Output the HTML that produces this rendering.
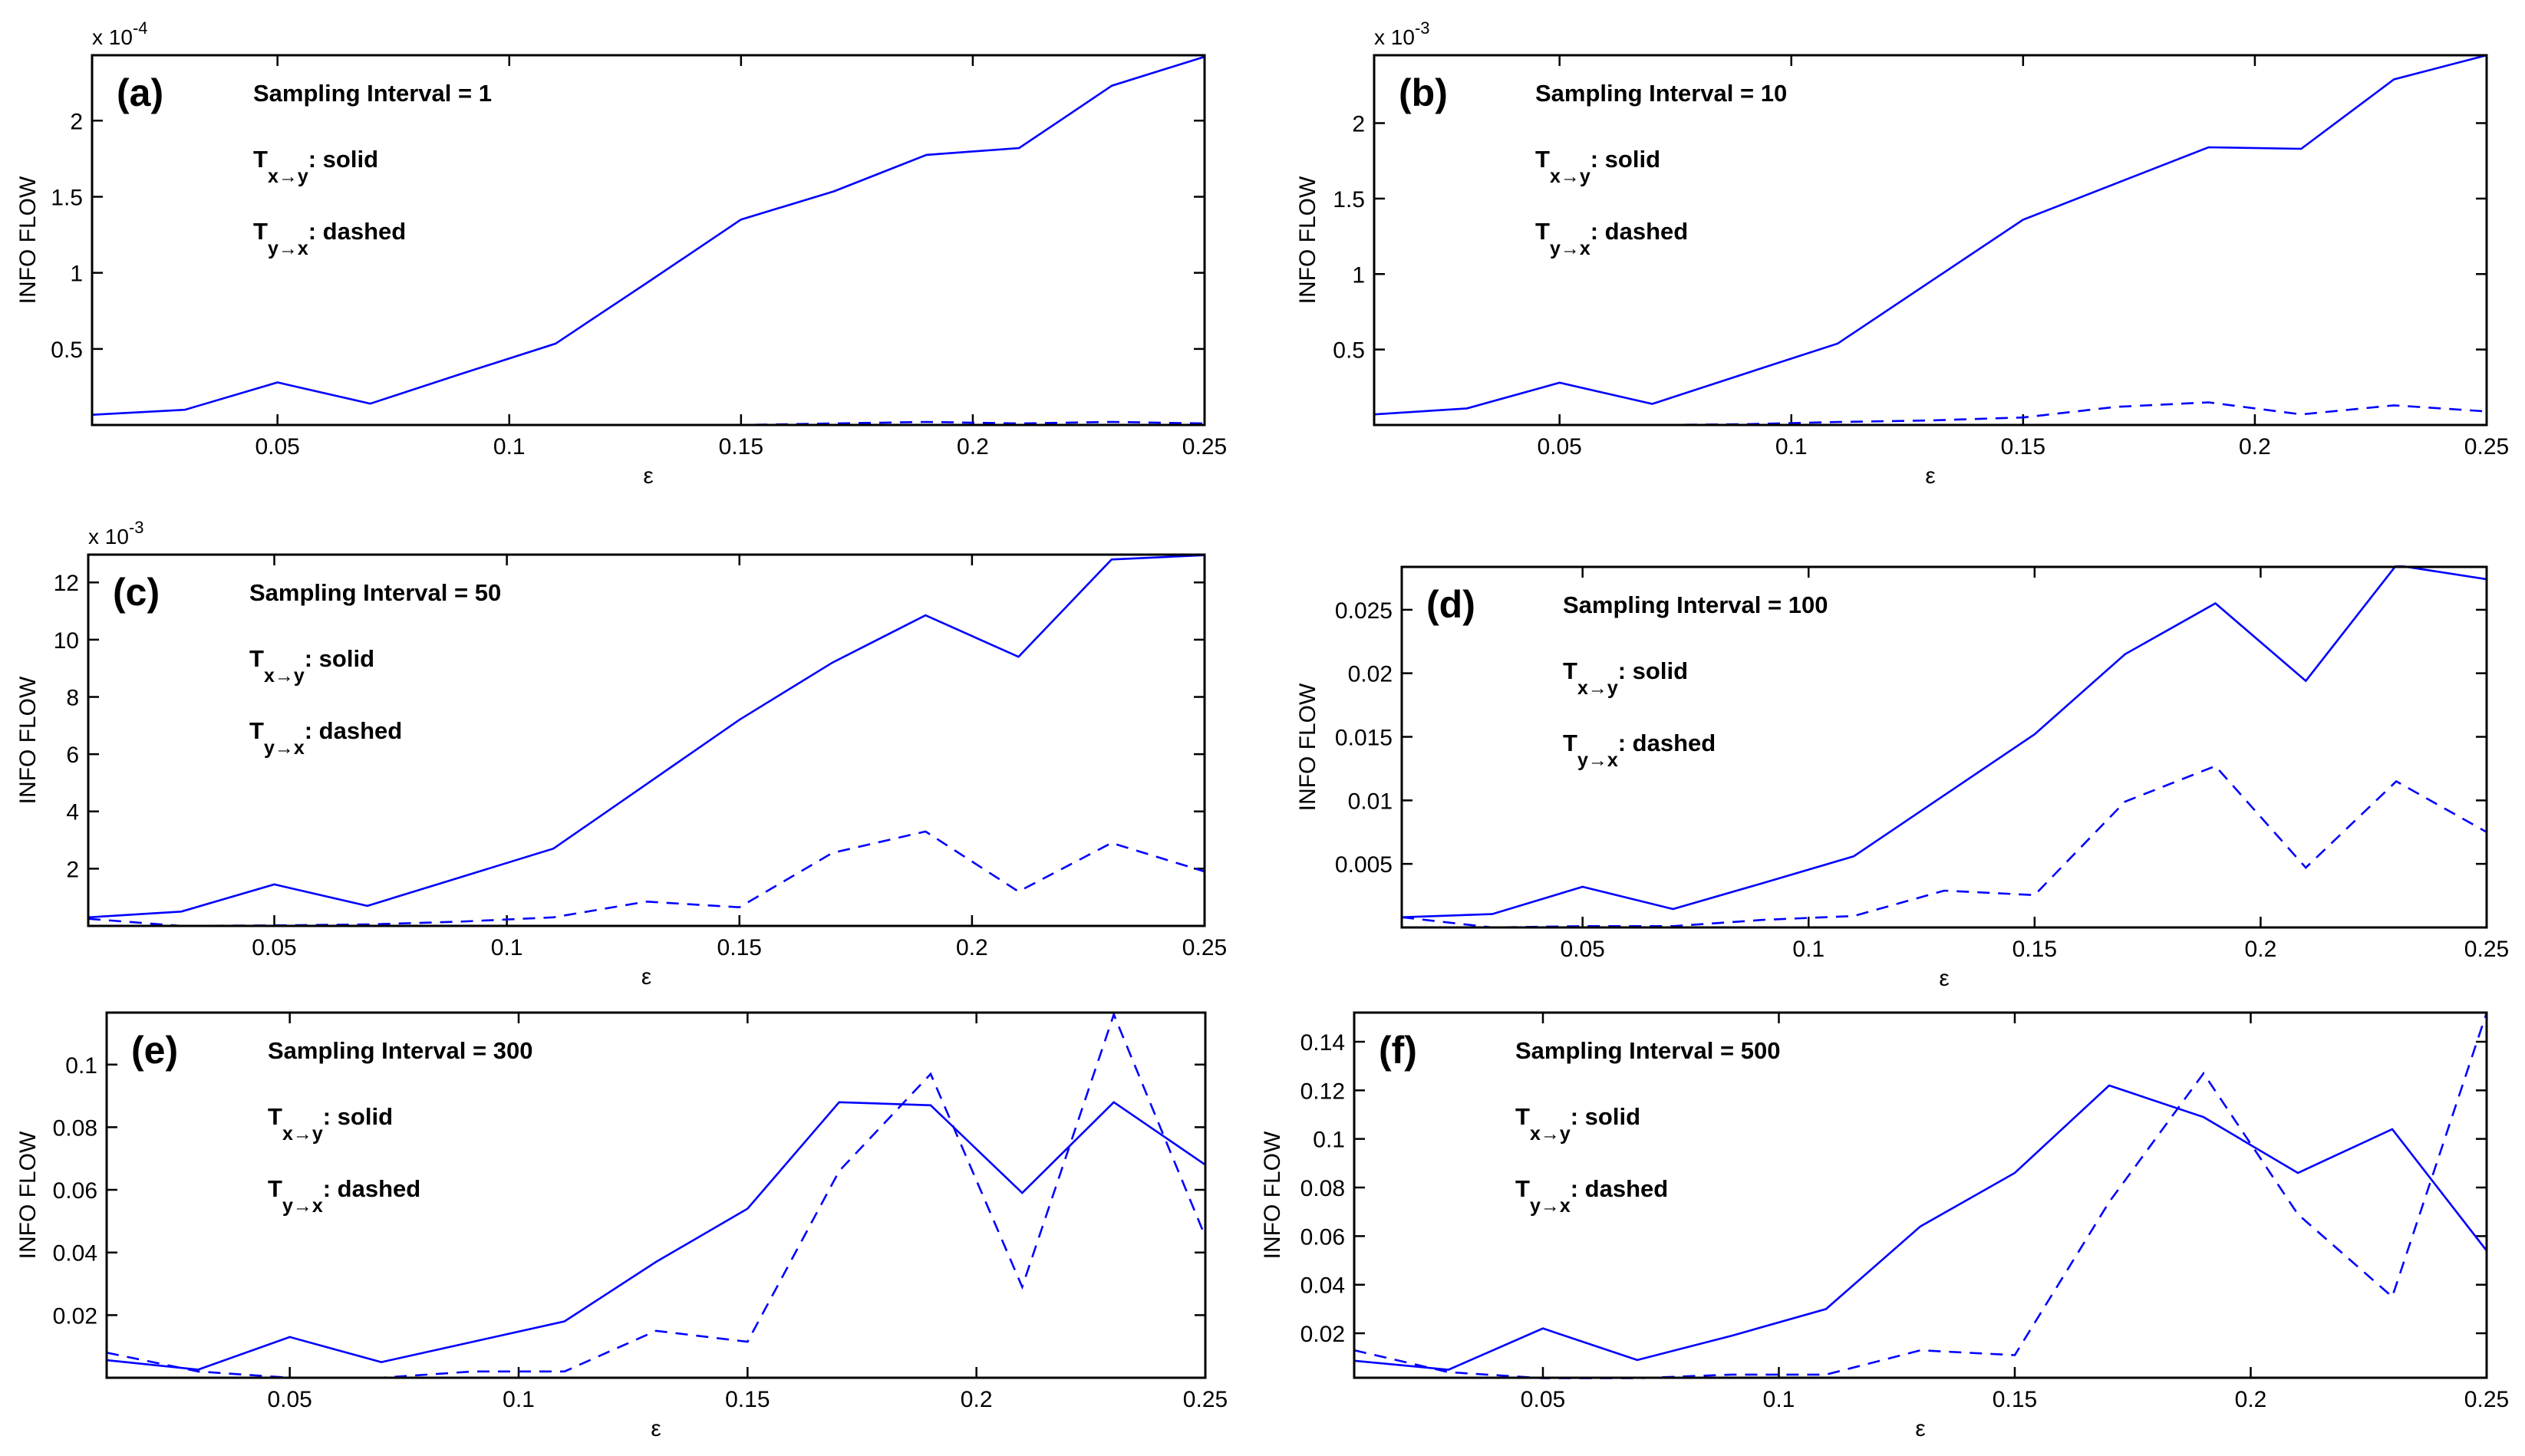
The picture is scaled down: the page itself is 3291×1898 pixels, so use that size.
<!DOCTYPE html>
<html><head><meta charset="utf-8">
<style>
html,body{margin:0;padding:0;background:#fff;}
svg{display:block;font-family:"Liberation Sans",Arial,sans-serif;}
</style></head>
<body>
<svg id="fig" width="3291" height="1898" viewBox="0 0 3291 1898" xmlns="http://www.w3.org/2000/svg"></svg>
<script>
const xs = [0.01,0.03,0.05,0.07,0.09,0.11,0.13,0.15,0.17,0.19,0.21,0.23,0.25];
const xTicks = [0.05,0.1,0.15,0.2,0.25];
const xTickLabels = ["0.05","0.1","0.15","0.2","0.25"];

const solidA = [0.067,0.10,0.28,0.14,0.34,0.535,0.94,1.35,1.535,1.775,1.82,2.23,2.42];
const dashA  = [0,0,0,0,0,0,0,0,0.01,0.02,0.01,0.02,0.01];
const ticksA = [0.5,1,1.5,2];
const tickLabelsA = ["0.5","1","1.5","2"];

const solidB = [0.07,0.11,0.28,0.14,0.34,0.54,0.95,1.36,1.6,1.84,1.83,2.29,2.45];
const dashB  = [0,0,0,0,0.005,0.02,0.03,0.05,0.12,0.15,0.07,0.13,0.09];
const ticksB = [0.5,1,1.5,2];
const tickLabelsB = ["0.5","1","1.5","2"];

const solidC = [0.3,0.5,1.45,0.7,1.7,2.7,4.95,7.2,9.2,10.85,9.4,12.8,12.95];
const dashC  = [0.25,0.0,0.02,0.05,0.15,0.3,0.85,0.65,2.55,3.3,1.2,2.9,1.9];
const ticksC = [2,4,6,8,10,12];
const tickLabelsC = ["2","4","6","8","10","12"];

const solidD = [0.0008,0.00105,0.0032,0.00145,0.0035,0.0056,0.0104,0.0152,0.0215,0.0255,0.0194,0.0285,0.0274];
const dashD  = [0.0008,0.0,0.0001,0.0001,0.0006,0.0009,0.0029,0.00255,0.0099,0.0127,0.0047,0.0115,0.0075];
const ticksD = [0.005,0.01,0.015,0.02,0.025];
const tickLabelsD = ["0.005","0.01","0.015","0.02","0.025"];

const solidE = [0.0056,0.0026,0.013,0.005,0.0115,0.018,0.037,0.054,0.088,0.087,0.059,0.088,0.068];
const dashE  = [0.008,0.002,0.0,0.0,0.002,0.002,0.015,0.0115,0.066,0.097,0.029,0.116,0.045];
const ticksE = [0.02,0.04,0.06,0.08,0.1];
const tickLabelsE = ["0.02","0.04","0.06","0.08","0.1"];

const solidF = [0.0087,0.005,0.022,0.009,0.019,0.030,0.064,0.086,0.122,0.109,0.086,0.104,0.054];
const dashF  = [0.013,0.004,0.0015,0.0015,0.003,0.003,0.013,0.011,0.074,0.127,0.069,0.035,0.152];
const ticksF = [0.02,0.04,0.06,0.08,0.1,0.12,0.14];
const tickLabelsF = ["0.02","0.04","0.06","0.08","0.1","0.12","0.14"];

const NS = "http://www.w3.org/2000/svg";
const svg = document.getElementById('fig');
function mk(tag, attrs, parent){
  const e = document.createElementNS(NS, tag);
  for (const k in attrs) e.setAttribute(k, attrs[k]);
  (parent||svg).appendChild(e);
  return e;
}

const panels = [
  {id:'a', L:120, R:1570, T:72, B:554, y0:0, y1:2.43, solid:solidA, dash:dashA, ticks:ticksA, tl:tickLabelsA, exp:'-4', si:'1', ylx:36},
  {id:'b', L:1791, R:3241, T:72, B:554, y0:0, y1:2.45, solid:solidB, dash:dashB, ticks:ticksB, tl:tickLabelsB, exp:'-3', si:'10', ylx:1704},
  {id:'c', L:115, R:1570, T:723, B:1207, y0:0, y1:12.97, solid:solidC, dash:dashC, ticks:ticksC, tl:tickLabelsC, exp:'-3', si:'50', ylx:36},
  {id:'d', L:1827, R:3241, T:739, B:1209, y0:0, y1:0.02837, solid:solidD, dash:dashD, ticks:ticksD, tl:tickLabelsD, exp:null, si:'100', ylx:1704},
  {id:'e', L:139, R:1571, T:1320, B:1796, y0:0, y1:0.1166, solid:solidE, dash:dashE, ticks:ticksE, tl:tickLabelsE, exp:null, si:'300', ylx:36},
  {id:'f', L:1765, R:3241, T:1320, B:1796, y0:0.0017, y1:0.152, solid:solidF, dash:dashF, ticks:ticksF, tl:tickLabelsF, exp:null, si:'500', ylx:1658}
];

panels.forEach(p => {
  const g = mk('g', {});
  
  
  const xS = v => p.L + (v - 0.01) / 0.24 * (p.R - p.L);
  const yS = v => p.B - (v - p.y0) / (p.y1 - p.y0) * (p.B - p.T);

  // clip
  const cp = mk('clipPath', {id:'clip' + p.id}, g);
  mk('rect', {x:p.L, y:p.T-2, width:p.R-p.L, height:p.B-p.T+4}, cp);

  // x ticks
  xTicks.forEach((t, i) => {
    const x = xS(t);
    const tk = mk('path', {d:`M${x},${p.B}v-14M${x},${p.T}v14`, stroke:'#000', 'stroke-width':2.5}, g);
    
    
    const lb = mk('text', {x:x, y:p.B+38, 'font-size':30, 'text-anchor':'middle'}, g);
    lb.textContent = xTickLabels[i];
    
    
  });
  // y ticks
  p.ticks.forEach((t, i) => {
    const y = yS(t);
    const tk = mk('path', {d:`M${p.L},${y}h14M${p.R},${y}h-14`, stroke:'#000', 'stroke-width':2.5}, g);
    
    
    const lb = mk('text', {x:p.L-12, y:y+11, 'font-size':30, 'text-anchor':'end'}, g);
    lb.textContent = p.tl[i];
    
    
  });

  // series
  const solidPts = xs.map((x, i) => xS(x).toFixed(1) + ',' + yS(p.solid[i]).toFixed(1)).join(' ');
  const sl = mk('polyline', {points:solidPts, fill:'none', stroke:'#0000ff', 'stroke-width':2.6, 'clip-path':`url(#clip${p.id})`}, g);
  
  
  const dashPts = xs.map((x, i) => xS(x).toFixed(1) + ',' + yS(p.dash[i]).toFixed(1)).join(' ');
  const dl = mk('polyline', {points:dashPts, fill:'none', stroke:'#0000ff', 'stroke-width':2.6, 'stroke-dasharray':'16 11', 'clip-path':`url(#clip${p.id})`}, g);
  
  

  // box
  const bx = mk('rect', {x:p.L, y:p.T, width:p.R-p.L, height:p.B-p.T, fill:'none', stroke:'#000', 'stroke-width':3}, g);
  
  

  // exponent
  if (p.exp) {
    const ex = mk('text', {x:p.L, y:p.T-14, 'font-size':28}, g);
    ex.innerHTML = 'x 10<tspan dy="-14" font-size="22">' + p.exp + '</tspan>';
    
    
  }
  // labels
  const pl = mk('text', {x:p.L+32, y:p.T+66, 'font-size':50, 'font-weight':'bold'}, g);
  pl.textContent = '(' + p.id + ')';
  
  
  const si = mk('text', {x:p.L+210, y:p.T+60, 'font-size':31, 'font-weight':'bold'}, g);
  si.textContent = 'Sampling Interval = ' + p.si;
  
  
  const t1 = mk('text', {x:p.L+210, y:p.T+146, 'font-size':31, 'font-weight':'bold'}, g);
  t1.innerHTML = 'T<tspan dy="20" font-size="25">x\u2192y</tspan><tspan dy="-20">: solid</tspan>';
  
  
  const t2 = mk('text', {x:p.L+210, y:p.T+240, 'font-size':31, 'font-weight':'bold'}, g);
  t2.innerHTML = 'T<tspan dy="20" font-size="25">y\u2192x</tspan><tspan dy="-20">: dashed</tspan>';
  
  

  const yl = mk('text', {x:p.ylx, y:(p.T+p.B)/2, 'font-size':30, 'text-anchor':'middle', transform:`rotate(-90 ${p.ylx} ${(p.T+p.B)/2})`, dy:10}, g);
  yl.textContent = 'INFO FLOW';
  
  
  const xl = mk('text', {x:(p.L+p.R)/2, y:p.B+76, 'font-size':30, 'text-anchor':'middle'}, g);
  xl.textContent = 'ε';
  
  
});
</script>
</body></html>
